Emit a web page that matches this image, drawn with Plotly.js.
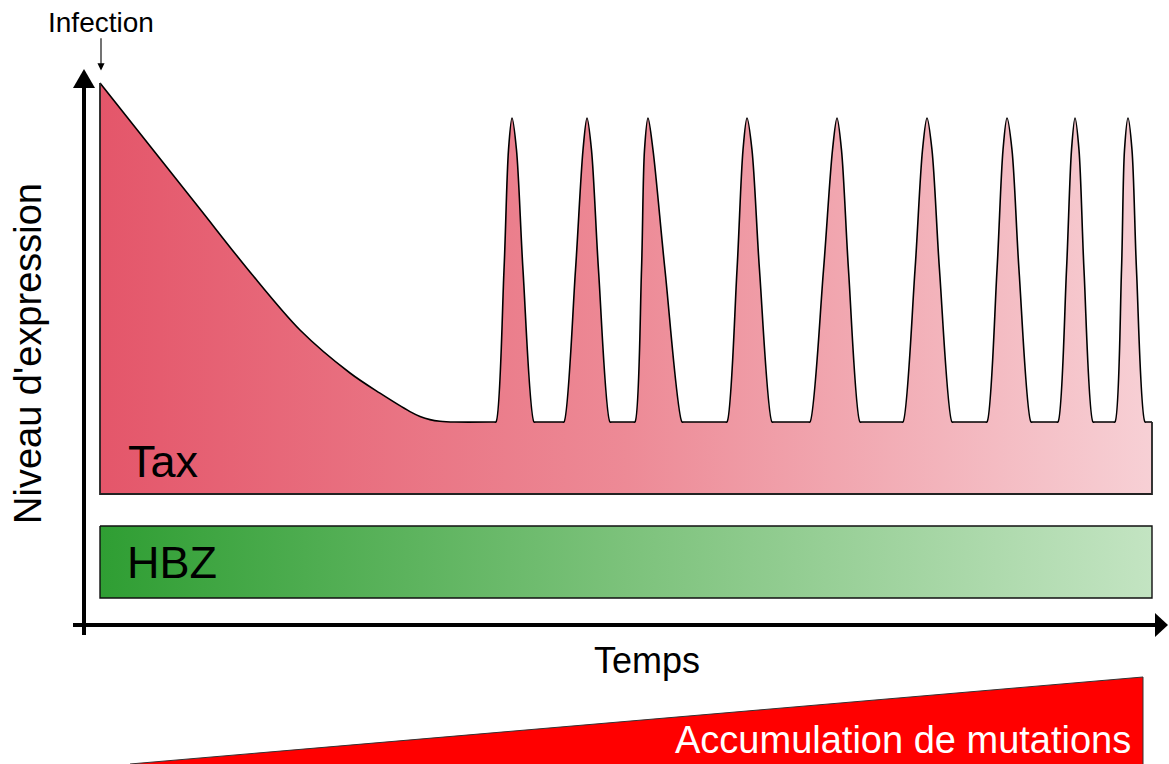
<!DOCTYPE html>
<html>
<head>
<meta charset="utf-8">
<script src="https://cdn.plot.ly/plotly-3.0.1.min.js"></script>
<style>
  html, body { margin: 0; padding: 0; background: #ffffff; }
  #chart { width: 1169px; height: 764px; }
</style>
</head>
<body>
<div id="chart"></div>
<script>
// ---- Data (time in arbitrary units, expression level in arbitrary units) ----
// Tax: initial decay after infection
const decayTime  = [0, 5, 10, 15, 20, 25, 28, 31, 32, 33, 34, 35.5];
const decayLevel = [102.75, 87, 71.25, 55.5, 41, 30.25, 25.2, 20.6, 19.4, 18.6, 18.2, 18];
// Tax: transient bursts
const peakStart     = [39.6, 46.4, 53.5, 62.7, 71.0, 80.3, 88.7, 95.8, 101.5];
const peakRiseMid   = [40.4, 47.55, 54.15, 63.7, 72.35, 81.5, 89.7, 96.65, 102.15];
const peakRiseShldr = [40.85, 48.3, 54.45, 64.3, 73.25, 82.25, 90.3, 97.15, 102.45];
const peakTop       = [41.2, 48.7, 54.8, 64.7, 73.7, 82.7, 90.7, 97.5, 102.8];
const peakFallShldr = [41.65, 49.15, 55.3, 65.2, 74.15, 83.2, 91.2, 97.9, 103.2];
const peakFallMid   = [42.3, 49.85, 56.5, 65.95, 74.85, 83.95, 91.9, 98.4, 103.65];
const peakEnd       = [43.4, 51.0, 58.2, 67.2, 76.0, 85.2, 93.1, 99.3, 104.5];
const basalLevel = 18;
const halfLevel  = 56;
const shldrLevel = 86;
const peakLevel  = 94;
const endTime    = 105.2;
// HBZ: constant expression band
const hbzTime  = [0, 105.2];
const hbzHigh  = -8;
const hbzLow   = -26;
// Accumulation of mutations (wedge)
const mutTime  = [3, 104.3];
const mutLevel = [-67.5, -45.75];
const mutBase  = -70;

// ---- Build the Tax series ----
const taxT = [], taxL = [];
decayTime.forEach((t, i) => { taxT.push(t); taxL.push(decayLevel[i]); });
peakStart.forEach((s, i) => {
  taxT.push(s - 0.15, s, peakRiseMid[i], peakRiseShldr[i], peakTop[i],
            peakFallShldr[i], peakFallMid[i], peakEnd[i], peakEnd[i] + 0.15);
  taxL.push(basalLevel, basalLevel, halfLevel, shldrLevel, peakLevel,
            shldrLevel, halfLevel, basalLevel, basalLevel);
});
taxT.push(endTime); taxL.push(basalLevel);

const traces = [
  {
    type: 'scatter', mode: 'lines', x: taxT, y: taxL,
    line: { color: '#000000', width: 1.6, shape: 'spline', smoothing: 0.9 },
    fill: 'tozeroy',
    fillgradient: { type: 'horizontal', start: 0, stop: endTime,
      colorscale: [[0, '#e4566a'], [0.5, '#ed8a96'], [1, '#f7d0d5']] },
    hoverinfo: 'skip'
  },
  {
    type: 'scatter', mode: 'lines',
    x: [0, 0, endTime, endTime],
    y: [decayLevel[0], 0, 0, basalLevel],
    line: { color: '#222222', width: 1.8 }, hoverinfo: 'skip'
  },
  {
    type: 'scatter', mode: 'lines',
    x: [hbzTime[0], hbzTime[1], hbzTime[1], hbzTime[0], hbzTime[0]],
    y: [hbzHigh, hbzHigh, hbzLow, hbzLow, hbzHigh],
    fill: 'toself',
    fillgradient: { type: 'horizontal', start: hbzTime[0], stop: hbzTime[1],
      colorscale: [[0, '#2f9e33'], [0.5, '#7cc27b'], [1, '#c3e4c2']] },
    line: { color: '#111111', width: 1.4 }, hoverinfo: 'skip'
  },
  {
    type: 'scatter', mode: 'lines',
    x: [mutTime[0], mutTime[1], mutTime[1], mutTime[0], mutTime[0]],
    y: [mutLevel[0], mutLevel[1], mutBase, mutBase, mutLevel[0]],
    fill: 'toself', fillcolor: '#ff0000',
    line: { color: '#333333', width: 1 }, hoverinfo: 'skip'
  }
];

const fontFam = '"Liberation Sans", Arial, sans-serif';
const layout = {
  width: 1169, height: 764,
  margin: { l: 0, r: 0, t: 0, b: 0 },
  paper_bgcolor: '#ffffff', plot_bgcolor: '#ffffff',
  showlegend: false,
  xaxis: { range: [-10, 106.9], visible: false, fixedrange: true },
  yaxis: { range: [-67.5, 123.5], visible: false, fixedrange: true },
  shapes: [
    { type: 'line', x0: -1.6, x1: -1.6, y0: -35.25, y1: 102, line: { color: '#000', width: 4 } },
    { type: 'path', path: 'M -2.7,101.5 L -0.5,101.5 L -1.6,106.25 Z', fillcolor: '#000', line: { width: 0 } },
    { type: 'line', x0: -2.7, x1: 105.8, y0: -32.75, y1: -32.75, line: { color: '#000', width: 4 } },
    { type: 'path', path: 'M 105.5,-29.75 L 105.5,-35.75 L 106.8,-32.75 Z', fillcolor: '#000', line: { width: 0 } }
  ],
  annotations: [
    { x: 0.1, y: 118, xref: 'x', yref: 'y', text: 'Infection', showarrow: false,
      font: { family: fontFam, size: 28, color: '#000' } },
    { x: 0.1, y: 105.9, ax: 0.1, ay: 114.3, xref: 'x', yref: 'y', axref: 'x', ayref: 'y',
      text: '', showarrow: true, arrowhead: 2, arrowsize: 1.3, arrowwidth: 1.1, arrowcolor: '#000' },
    { x: 2.6, y: 8.25, xref: 'x', yref: 'y', xanchor: 'left', text: 'Tax', showarrow: false,
      font: { family: fontFam, size: 45, color: '#000' } },
    { x: 2.5, y: -17, xref: 'x', yref: 'y', xanchor: 'left', text: 'HBZ', showarrow: false,
      font: { family: fontFam, size: 45, color: '#000' } },
    { x: 54.7, y: -41.5, xref: 'x', yref: 'y', text: 'Temps', showarrow: false,
      font: { family: fontFam, size: 36, color: '#000' } },
    { x: -7.2, y: 35, xref: 'x', yref: 'y', text: "Niveau d'expression", textangle: -90, showarrow: false,
      font: { family: fontFam, size: 38, color: '#000' } },
    { x: 103.3, y: -61.5, xref: 'x', yref: 'y', xanchor: 'right', text: 'Accumulation de mutations', showarrow: false,
      font: { family: fontFam, size: 38, color: '#ffffff' } }
  ]
};

Plotly.newPlot('chart', traces, layout, { displayModeBar: false, staticPlot: true });
</script>
</body>
</html>
